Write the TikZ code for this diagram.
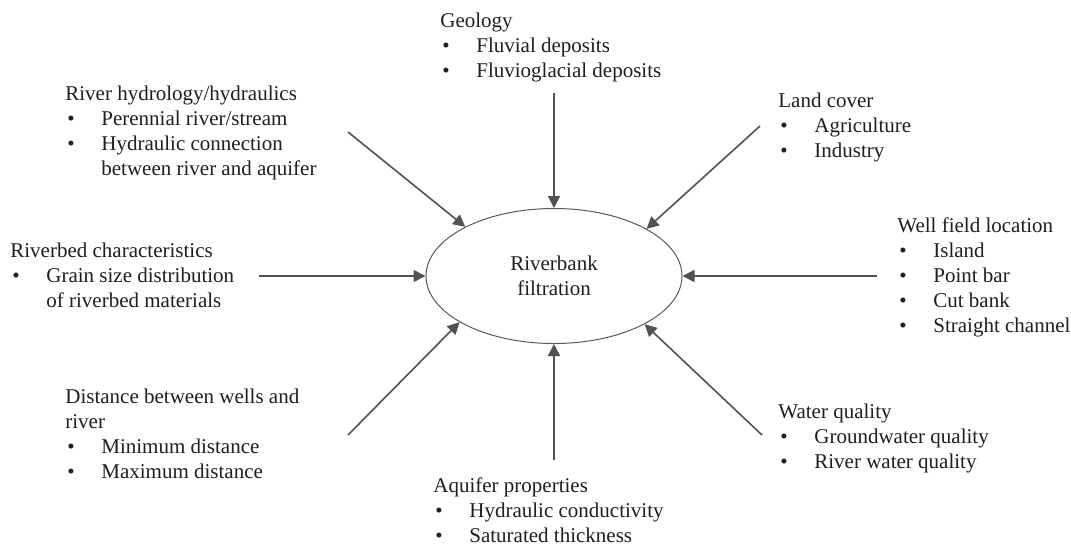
\documentclass[tikz,border=0pt]{standalone}
\usepackage{fontspec}
\setmainfont{Liberation Serif}
\usetikzlibrary{arrows.meta,shapes.geometric}
\newcommand{\bitem}[1]{\makebox[18pt][l]{\hspace{1pt}\textbullet}#1}
\begin{document}
\begin{tikzpicture}[x=0.5pt,y=-0.5pt,
  txt/.style={anchor=north west,inner sep=0pt,align=left,font=\fontsize{10.5}{12.5}\selectfont,text=black!88},
  arr/.style={draw=black!68,line width=0.8pt,-{Triangle[length=6pt,width=6pt]}},
  hub/.style={ellipse,draw=black!65,line width=0.5pt,minimum width=128pt,minimum height=67.5pt,inner sep=0pt,align=center,font=\fontsize{10.5}{12.5}\selectfont,text=black!88}]
\useasboundingbox (0,0) rectangle (1071,548);
\fill[white] (0,0) rectangle (1071,548);

\node[hub] (rf) at (554,276) {Riverbank\\filtration};

\node[txt] (geo) at (440,9.5) {\strut Geology\\ \bitem{Fluvial deposits}\\ \bitem{Fluvioglacial deposits}};
\node[txt] (hyd) at (65,82.5) {\strut River hydrology/hydraulics\\ \bitem{Perennial river/stream}\\ \bitem{Hydraulic connection}\\ \hspace*{18pt}between river and aquifer};
\node[txt] (bed) at (10,239.5) {\strut Riverbed characteristics\\ \bitem{Grain size distribution}\\ \hspace*{18pt}of riverbed materials};
\node[txt] (dist) at (65,385.5) {\strut Distance between wells and\\ river\\ \bitem{Minimum distance}\\ \bitem{Maximum distance}};
\node[txt] (aq) at (433,474.5) {\strut Aquifer properties\\ \bitem{Hydraulic conductivity}\\ \bitem{Saturated thickness}};
\node[txt] (wq) at (778,400.5) {\strut Water quality\\ \bitem{Groundwater quality}\\ \bitem{River water quality}};
\node[txt] (well) at (897,214.5) {\strut Well field location\\ \bitem{Island}\\ \bitem{Point bar}\\ \bitem{Cut bank}\\ \bitem{Straight channel}};
\node[txt] (land) at (778,89.5) {\strut Land cover\\ \bitem{Agriculture}\\ \bitem{Industry}};

\coordinate (cgeo) at (554,93);
\coordinate (chyd) at (348,132);
\coordinate (cbed) at (259,276);
\coordinate (cdist) at (348,435);
\coordinate (caq) at (554,460);
\coordinate (cwq) at (762,435);
\coordinate (cwell) at (877,276);
\coordinate (cland) at (760,126);

\draw[arr] (cgeo) -- (rf.north);
\draw[arr] (chyd) -- (rf.151.5);
\draw[arr] (cbed) -- (rf.west);
\draw[arr] (cdist) -- (rf.206.6);
\draw[arr] (caq) -- (rf.south);
\draw[arr] (cwq) -- (rf.332.2);
\draw[arr] (cwell) -- (rf.east);
\draw[arr] (cland) -- (rf.27.8);
\end{tikzpicture}
\end{document}
